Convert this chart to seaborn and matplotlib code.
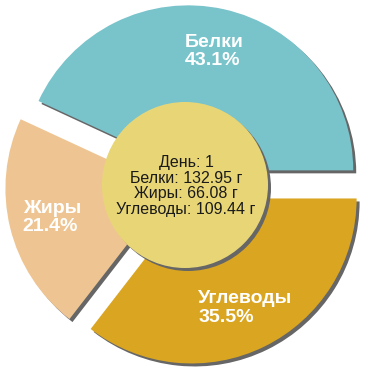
import numpy as np
import matplotlib
matplotlib.use("Agg")
import matplotlib.pyplot as plt
import seaborn as sns
from matplotlib.patches import Circle

# data
names = ["Белки", "Жиры", "Углеводы"]
grams = [132.95, 66.08, 109.44]
percents = [43.1, 21.4, 35.5]
day = 1

colors = ["#79C3CB", "#EEC592", "#DAA520"]
shadow_color = "#666666"

sns.set_theme(style="white")
plt.rcParams['font.family'] = ['Liberation Sans', 'DejaVu Sans']

cx, cy = 185, 185
R = 165
gap = 15
sh = (3, -3)

fig = plt.figure(figsize=(3.7, 3.7), dpi=100)
ax = fig.add_axes([0, 0, 1, 1])

# shadow pie first, then the real one on top
ax.pie(grams, colors=[shadow_color] * 3, startangle=0, counterclock=True,
       radius=R, center=(cx + sh[0], cy + sh[1]), explode=[gap] * 3,
       wedgeprops=dict(linewidth=0))
wedges, _ = ax.pie(grams, colors=colors, startangle=0, counterclock=True,
                   radius=R, center=(cx, cy), explode=[gap] * 3,
                   wedgeprops=dict(linewidth=0))

# slice labels
for w, name, p in zip(wedges, names, percents):
    mid = np.deg2rad((w.theta1 + w.theta2) / 2)
    tx = cx + 137 * np.cos(mid)
    ty = cy + 137 * np.sin(mid)
    ax.text(tx, ty, f"{name}\n{p}%", color="white", fontsize=14, fontweight="bold",
            ha="center", va="center", multialignment="left", linespacing=1.1)

# center disc with totals
ax.add_patch(Circle((cx + sh[0], cy + sh[1]), 83, color=shadow_color, lw=0))
ax.add_patch(Circle((cx, cy), 83, color="#E8D676", lw=0))
lines = [f"День: {day}"] + [f"{n}: {g:.2f} г" for n, g in zip(names, grams)]
ax.text(cx + 1, cy - 1, "\n".join(lines), color="#1a1a1a", fontsize=11.5,
        ha="center", va="center", linespacing=1.05)

ax.set_xlim(0, 370)
ax.set_ylim(0, 370)
ax.set_aspect("equal")
ax.axis("off")

fig.savefig("out.png", dpi=100, facecolor="white")
